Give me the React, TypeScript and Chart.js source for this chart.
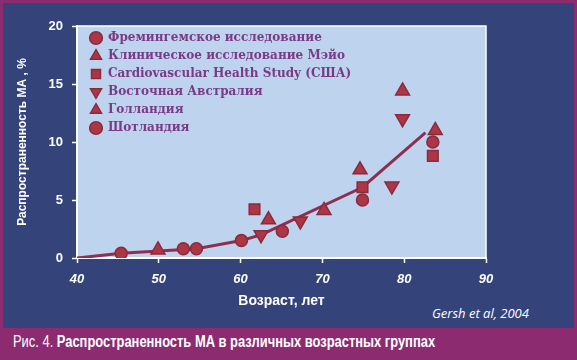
import React, { useEffect, useRef } from "react";
import { Chart, registerables } from "chart.js";

Chart.register(...registerables);

const seriesNames = [
  "Фремингемское исследование",
  "Клиническое исследование Мэйо",
  "Cardiovascular Health Study (США)",
  "Восточная Австралия",
  "Голландия",
  "Шотландия",
];

const framinghamX = [53.0, 54.6, 60.1, 65.1, 74.9];
const framinghamY = [0.8, 0.8, 1.5, 2.3, 5.0];
const mayoX = [49.9, 63.4, 70.2, 74.6];
const mayoY = [0.7, 3.3, 4.1, 7.6];
const chsX = [61.7, 74.9, 83.5];
const chsY = [4.2, 6.1, 8.8];
const eastAusX = [62.5, 67.3, 78.5, 79.8];
const eastAusY = [2.0, 3.2, 6.2, 12.0];
const hollandX = [79.8, 83.8];
const hollandY = [14.4, 11.0];
const scotlandX = [45.4, 83.5];
const scotlandY = [0.4, 10.0];

const trendX = [40, 45.4, 50, 54.6, 60.1, 62.5, 74.9, 82.6];
const trendY = [0, 0.4, 0.6, 0.8, 1.5, 2.0, 6.1, 10.8];

const xMin = 40;
const xMax = 90;
const xStep = 10;
const yMin = 0;
const yMax = 20;
const yStep = 5;

const xTitle = "Возраст, лет";
const yTitle = "Распространенность МА , %";
const sourceText = "Gersh et al, 2004";
const captionPrefix = "Рис. 4. ";
const captionText = "Распространенность МА в различных возрастных группах";

const pts = (xs: number[], ys: number[]) => xs.map((x, i) => ({ x, y: ys[i] }));

const MARK_FILL = "#AD3646";
const MARK_EDGE = "#8A2A3E";

export default function App() {
  const ref = useRef<HTMLCanvasElement | null>(null);
  const capRef = useRef<HTMLDivElement | null>(null);

  useEffect(() => {
    if (capRef.current) {
      const w = capRef.current.scrollWidth;
      if (w > 0) {
        capRef.current.style.transform = `scaleX(${422 / w})`;
      }
    }
    if (!ref.current) return;
    const marker = (label: string, data: any[], style: string, radius: number, rotation = 0) => ({
      label,
      data,
      pointStyle: style,
      pointRadius: radius,
      pointRotation: rotation,
      pointBackgroundColor: MARK_FILL,
      pointBorderColor: MARK_EDGE,
      backgroundColor: MARK_FILL,
      borderColor: MARK_EDGE,
      borderWidth: 1.5,
      pointBorderWidth: 1.5,
      showLine: false,
    });

    const areaPlugin = {
      id: "areaDeco",
      afterLayout(chart: any) {
        if (chart.legend) {
          chart.legend.left = chart.chartArea.left + 7;
          chart.legend.top = chart.chartArea.top;
        }
      },
      beforeDraw(chart: any) {
        const { ctx, chartArea: a } = chart;
        ctx.save();
        ctx.fillStyle = "#BED3EE";
        ctx.fillRect(a.left, a.top, a.right - a.left, a.bottom - a.top);
        ctx.strokeStyle = "#FFFFFF";
        ctx.lineWidth = 1.5;
        ctx.strokeRect(a.left, a.top, a.right - a.left, a.bottom - a.top);
        ctx.restore();
      },
    };

    const chart = new Chart(ref.current, {
      type: "scatter",
      data: {
        datasets: [
          marker(seriesNames[0], pts(framinghamX, framinghamY), "circle", 6),
          marker(seriesNames[1], pts(mayoX, mayoY), "triangle", 8),
          marker(seriesNames[2], pts(chsX, chsY), "rect", 7.5),
          marker(seriesNames[3], pts(eastAusX, eastAusY), "triangle", 8, 180),
          marker(seriesNames[4], pts(hollandX, hollandY), "triangle", 8),
          marker(seriesNames[5], pts(scotlandX, scotlandY), "circle", 6),
          {
            label: "trend",
            data: pts(trendX, trendY),
            showLine: true,
            pointRadius: 0,
            borderColor: "#8E2F50",
            borderWidth: 3,
            backgroundColor: "#8E2F50",
            tension: 0,
          } as any,
        ],
      },
      options: {
        animation: false,
        responsive: false,
        maintainAspectRatio: false,
        devicePixelRatio: 1,
        layout: { padding: { left: 0, top: 26, right: 91, bottom: 50 } },
        plugins: {
          tooltip: { enabled: false },
          legend: {
            position: "chartArea" as any,
            align: "start",
            labels: {
              usePointStyle: true,
              boxHeight: 9,
              boxWidth: 12,
              padding: 6,
              color: "#7A3A86",
              font: { family: "'DejaVu Serif', serif", size: 12, weight: "bold" },
              filter: (item: any) => item.datasetIndex < 6,
            },
          },
        },
        scales: {
          x: {
            type: "linear",
            min: xMin,
            max: xMax,
            afterFit: (s: any) => {
              s.height = 52;
            },
            ticks: {
              stepSize: xStep,
              color: "#FFFFFF",
              padding: 9,
              font: { family: "'Liberation Sans', Arial, sans-serif", size: 13, weight: "bold", style: "italic" },
            },
            grid: {
              drawOnChartArea: false,
              drawTicks: true,
              tickLength: 5,
              tickColor: "#FFFFFF",
              tickWidth: 1.5,
            },
            border: { color: "#FFFFFF", width: 2 },
            title: {
              display: true,
              text: xTitle,
              color: "#FFFFFF",
              padding: { top: 0, bottom: 0 },
              font: { family: "'Liberation Sans', Arial, sans-serif", size: 14, weight: "bold" },
            },
          },
          y: {
            type: "linear",
            min: yMin,
            max: yMax,
            afterFit: (s: any) => {
              s.width = 77;
            },
            ticks: {
              stepSize: yStep,
              color: "#FFFFFF",
              padding: 9,
              font: { family: "'Liberation Sans', Arial, sans-serif", size: 13, weight: "bold" },
            },
            grid: {
              drawOnChartArea: false,
              drawTicks: true,
              tickLength: 5,
              tickColor: "#FFFFFF",
              tickWidth: 1.5,
            },
            border: { color: "#FFFFFF", width: 2 },
            title: {
              display: true,
              text: yTitle,
              color: "#FFFFFF",
              padding: { top: 15, bottom: 0 },
              font: { family: "'Liberation Sans', Arial, sans-serif", size: 12, weight: "bold" },
            },
          },
        },
      },
      plugins: [areaPlugin],
    } as any);

    return () => chart.destroy();
  }, []);

  return (
    <div
      style={{
        position: "fixed",
        left: 0,
        top: 0,
        width: 577,
        height: 360,
        background: "#8C2B70",
        overflow: "hidden",
      }}
    >
      <div
        style={{
          position: "absolute",
          left: 3,
          top: 3,
          width: 571,
          height: 325,
          background: "#34447A",
        }}
      />
      <div
        style={{
          position: "absolute",
          left: 432,
          top: 305,
          fontFamily: "'Open Sans', 'Liberation Sans', sans-serif",
          fontStyle: "italic",
          fontSize: 13,
          color: "#FFFFFF",
          whiteSpace: "nowrap",
          lineHeight: "16px",
        }}
      >
        {sourceText}
      </div>
      <div
        ref={capRef}
        style={{
          position: "absolute",
          left: 13,
          top: 333,
          fontFamily: "'Liberation Sans', Arial, sans-serif",
          fontSize: 16,
          color: "#FFFFFF",
          whiteSpace: "nowrap",
          lineHeight: "18px",
          transformOrigin: "0 50%",
          display: "inline-block",
        }}
      >
        <span>{captionPrefix}</span>
        <span style={{ fontWeight: "bold" }}>{captionText}</span>
      </div>
      <canvas
        ref={ref}
        width={577}
        height={360}
        style={{ position: "absolute", left: 0, top: 0, width: 577, height: 360 }}
      />
    </div>
  );
}
